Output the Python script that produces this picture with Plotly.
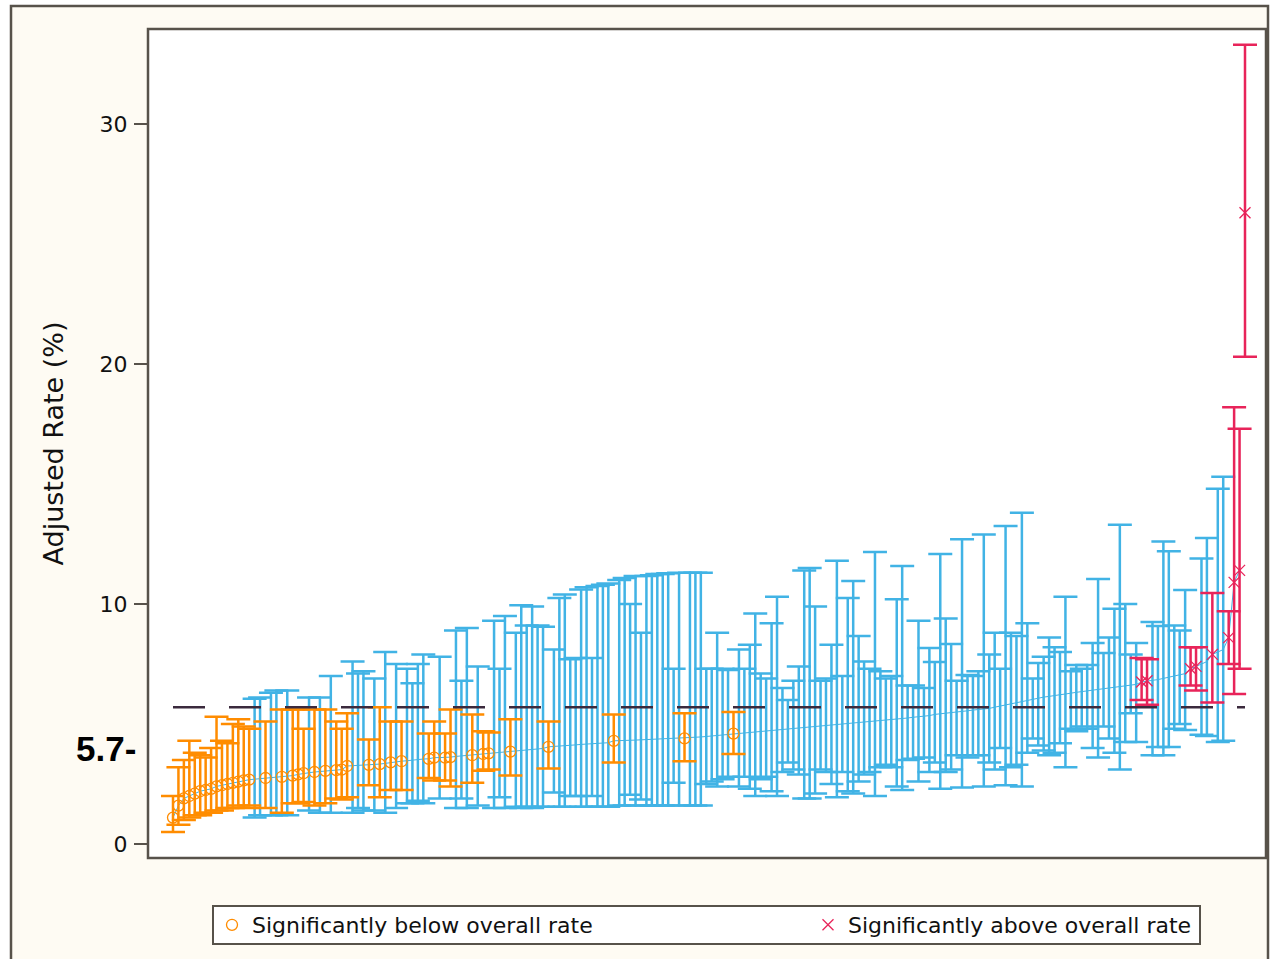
import plotly.graph_objects as go

# ---- data (hospitals ordered by adjusted rate) ----
# flag: B = significantly below overall rate, N = not significant, A = significantly above
flag = list(
    "BBBBBBBBBB" "BBBBBNNBNN" "BNBBBNBNBN" "BBBNNNBNBN" "BNBNNNNBBN"
    "BBNNNBNBBN" "NNBNNNNNNB" "NNNNNNNNNN" "NBNNNNNNNN" "NNNNBNNNNN"
    "NNNBNNNNNN" "NNNNNNNNNN" "NNNNNNNNNN" "NNNNNNNNNN" "NNNNNNNNNN"
    "NNNNNNNNNN" "NNNNNNNNNN" "NNNNNNNNAA" "NNNNNNNAAN" "NANNAAAA"
)
rate = [
    1.10, 1.60, 1.90, 2.00, 2.10, 2.20, 2.25, 2.30, 2.40, 2.45,
    2.50, 2.55, 2.60, 2.65, 2.68, 2.70, 2.72, 2.75, 2.77, 2.80,
    2.80, 2.83, 2.85, 2.90, 2.95, 2.97, 3.00, 3.02, 3.05, 3.07,
    3.08, 3.10, 3.25, 3.26, 3.27, 3.28, 3.30, 3.32, 3.33, 3.36,
    3.40, 3.42, 3.45, 3.47, 3.50, 3.52, 3.54, 3.55, 3.60, 3.60,
    3.60, 3.62, 3.65, 3.67, 3.68, 3.70, 3.72, 3.75, 3.78, 3.80,
    3.81, 3.82, 3.85, 3.87, 3.90, 3.92, 3.94, 3.96, 3.98, 4.05,
    4.06, 4.08, 4.10, 4.12, 4.13, 4.15, 4.16, 4.18, 4.19, 4.20,
    4.22, 4.30, 4.30, 4.31, 4.32, 4.33, 4.34, 4.35, 4.36, 4.37,
    4.38, 4.39, 4.40, 4.40, 4.40, 4.42, 4.44, 4.46, 4.48, 4.50,
    4.52, 4.54, 4.56, 4.60, 4.62, 4.64, 4.66, 4.68, 4.70, 4.72,
    4.74, 4.76, 4.78, 4.80, 4.82, 4.84, 4.86, 4.88, 4.90, 4.92,
    4.94, 4.96, 4.98, 5.00, 5.02, 5.04, 5.06, 5.08, 5.10, 5.12,
    5.14, 5.16, 5.18, 5.20, 5.22, 5.25, 5.28, 5.30, 5.32, 5.35,
    5.40, 5.42, 5.45, 5.48, 5.50, 5.52, 5.55, 5.58, 5.60, 5.62,
    5.65, 5.70, 5.75, 5.80, 5.85, 5.90, 5.95, 6.00, 6.05, 6.10,
    6.12, 6.15, 6.20, 6.22, 6.25, 6.30, 6.32, 6.35, 6.38, 6.40,
    6.45, 6.48, 6.50, 6.55, 6.58, 6.60, 6.62, 6.65, 6.75, 6.80,
    6.82, 6.85, 6.90, 6.95, 7.00, 7.05, 7.10, 7.30, 7.40, 7.50,
    7.60, 7.90, 8.00, 8.10, 8.60, 10.90, 11.40, 26.30,
]
lower = [
    0.50, 0.80, 1.00, 1.10, 1.20, 1.20, 1.30, 1.30, 1.40, 1.40,
    1.50, 1.50, 1.60, 1.50, 1.60, 1.10, 1.20, 1.50, 1.20, 1.20,
    1.30, 1.20, 1.70, 1.70, 1.75, 1.40, 1.60, 1.30, 1.70, 1.30,
    1.90, 1.85, 1.95, 1.30, 1.50, 1.40, 2.45, 1.40, 1.95, 1.30,
    2.25, 1.50, 2.25, 1.70, 1.70, 1.80, 1.70, 2.75, 2.65, 1.90,
    2.65, 2.40, 1.50, 1.90, 1.50, 2.55, 1.60, 3.05, 3.10, 1.50,
    1.95, 1.50, 2.85, 1.55, 1.50, 1.55, 1.50, 1.55, 1.55, 3.15,
    2.15, 1.55, 1.55, 2.00, 2.00, 1.55, 1.55, 2.00, 1.55, 1.55,
    1.55, 3.40, 1.60, 1.60, 2.05, 1.60, 1.85, 1.60, 1.60, 1.60,
    1.60, 1.60, 2.55, 1.60, 3.45, 1.60, 1.60, 1.60, 2.50, 2.60,
    2.40, 2.70, 2.80, 3.75, 2.40, 2.80, 2.30, 2.00, 2.70, 2.80,
    2.20, 2.00, 3.00, 3.40, 3.10, 2.90, 1.90, 1.90, 2.10, 3.10,
    3.00, 2.50, 1.95, 3.00, 2.20, 2.10, 2.60, 2.90, 3.00, 2.00,
    3.20, 3.30, 3.20, 2.40, 2.25, 3.50, 3.55, 2.60, 3.60, 3.00,
    3.40, 2.30, 3.00, 3.10, 3.70, 2.35, 3.60, 3.70, 3.70, 2.40,
    3.40, 3.10, 4.00, 2.45, 3.20, 3.30, 2.40, 3.80, 4.40, 4.10,
    3.90, 3.70, 3.80, 4.20, 3.20, 4.80, 4.70, 4.90, 4.80, 4.00,
    3.60, 4.90, 4.40, 3.80, 3.10, 4.25, 5.45, 4.25, 6.00, 5.80,
    3.70, 4.04, 3.70, 4.04, 4.80, 5.00, 4.75, 6.60, 6.40, 4.55,
    4.50, 5.90, 4.25, 4.30, 7.50, 6.25, 7.30, 20.30,
]
upper = [
    2.00, 3.20, 3.50, 4.30, 3.80, 3.70, 3.60, 4.00, 5.30, 4.30,
    4.20, 5.00, 5.20, 4.90, 4.80, 6.05, 6.10, 5.10, 6.30, 6.40,
    5.60, 6.40, 5.60, 5.60, 4.80, 6.10, 5.60, 6.10, 5.60, 7.00,
    5.10, 4.80, 5.45, 7.60, 7.10, 7.20, 4.35, 6.90, 5.70, 8.00,
    5.10, 7.50, 5.10, 7.30, 6.70, 7.50, 7.90, 4.60, 5.10, 7.80,
    4.60, 5.60, 8.90, 6.80, 9.00, 5.40, 7.40, 4.70, 4.65, 9.30,
    7.30, 9.50, 5.20, 8.80, 9.95, 9.10, 9.90, 9.10, 9.05, 5.10,
    8.10, 10.25, 10.40, 7.70, 7.75, 10.60, 10.70, 7.75, 10.75, 10.80,
    10.85, 5.40, 11.00, 11.08, 10.00, 11.17, 8.80, 11.17, 11.20, 11.25,
    11.25, 11.28, 7.30, 11.30, 5.45, 11.30, 11.30, 11.30, 7.30, 7.30,
    8.80, 7.30, 7.25, 5.50, 8.10, 7.30, 8.30, 9.60, 7.10, 6.90,
    9.20, 10.30, 6.50, 6.00, 6.80, 7.40, 11.40, 11.50, 9.90, 6.80,
    6.90, 8.30, 11.80, 7.00, 10.25, 10.96, 8.67, 7.60, 7.30, 12.17,
    7.20, 6.90, 7.00, 10.20, 11.58, 6.60, 6.60, 9.30, 6.50, 8.17,
    7.58, 12.08, 9.40, 8.33, 6.80, 12.70, 7.04, 7.00, 7.20, 12.90,
    7.90, 8.80, 7.30, 13.25, 8.80, 8.67, 13.80, 9.20, 6.90, 7.54,
    7.80, 8.60, 8.20, 8.00, 10.30, 7.20, 7.46, 7.30, 7.46, 8.38,
    11.04, 7.96, 8.60, 9.80, 13.30, 10.00, 7.90, 8.38, 7.75, 7.70,
    9.25, 9.08, 12.60, 12.20, 9.10, 8.90, 10.58, 8.20, 8.20, 11.90,
    12.75, 10.46, 14.80, 15.30, 9.70, 18.20, 17.30, 33.30,
]
overall_rate = 5.7
legend_below = "Significantly below overall rate"
legend_above = "Significantly above overall rate"
y_title = "Adjusted Rate (%)"
y_ticks = [0, 10, 20, 30]

# ---- build ----
n = len(rate)
rank = list(range(n))

BLUE = "#41B3E5"
ORANGE = "#FF8C00"
RED = "#E8245A"
DARK = "#57524a"


def subset(code):
    idx = [i for i in range(n) if flag[i] == code]
    return (
        [rank[i] for i in idx],
        [rate[i] for i in idx],
        [upper[i] - rate[i] for i in idx],
        [rate[i] - lower[i] for i in idx],
    )


fig = go.Figure()

# thin line through the estimates (the extreme outlier is left unconnected)
fig.add_trace(go.Scatter(x=rank[:-1], y=rate[:-1], mode="lines",
                         line=dict(color=BLUE, width=1), showlegend=False,
                         hoverinfo="skip"))

for code, color, sym, name, leg in [
    ("N", BLUE, "circle", "Not significant", None),
    ("B", ORANGE, "circle-open", legend_below, "legend"),
    ("A", RED, "x-thin-open", legend_above, "legend2"),
]:
    xs, ys, ep, em = subset(code)
    if code == "N":
        marker = dict(size=1, color="rgba(0,0,0,0)")
    else:
        marker = dict(symbol=sym, size=11, color=color,
                      line=dict(color=color, width=1.3))
    fig.add_trace(go.Scatter(
        x=xs, y=ys, mode="markers", marker=marker, name=name,
        showlegend=leg is not None, legend=leg if leg else "legend",
        error_y=dict(type="data", symmetric=False, array=ep, arrayminus=em,
                     color=color, thickness=2.5, width=12),
    ))

# overall rate reference line
fig.add_trace(go.Scatter(x=[0, n - 1], y=[overall_rate, overall_rate],
                         mode="lines", showlegend=False, hoverinfo="skip",
                         line=dict(color="#3b2a3d", width=2.5,
                                   dash="32px,24px")))

W, H = 1270, 959
L, R, T, B = 148, 4, 29, 101
pw, ph = W - L - R, H - T - B


def px(xp):
    return (xp - L) / pw


def py(yp):
    return (H - B - yp) / ph


spacing = (1245 - 173) / (n - 1)
x0 = -(173 - L) / spacing
x1 = (W - R - 173) / spacing
y_per = 24.0
ymax = (844 - T) / y_per
ymin = -(H - B - 844) / y_per

fig.update_layout(
    width=W, height=H,
    margin=dict(l=L, r=R, t=T, b=B),
    paper_bgcolor="white",
    plot_bgcolor="rgba(0,0,0,0)",
    font=dict(family="DejaVu Sans", color="#111111"),
    xaxis=dict(range=[x0, x1], showticklabels=False, ticks="",
               showgrid=False, zeroline=False, showline=False),
    yaxis=dict(range=[ymin, ymax], tickvals=y_ticks, ticks="outside",
               ticklen=13, tickwidth=2, tickcolor=DARK,
               tickfont=dict(size=22, family="DejaVu Sans"),
               ticklabelstandoff=2,
               showgrid=False, zeroline=False, showline=False,
               title=dict(text=y_title, standoff=28,
                          font=dict(size=27, family="DejaVu Sans"))),
    shapes=[
        dict(type="rect", xref="paper", yref="paper", layer="below",
             x0=px(11), x1=px(1268), y0=py(975), y1=py(6),
             fillcolor="#FEFBF3", line=dict(color=DARK, width=2.5)),
        dict(type="rect", xref="paper", yref="paper", layer="below",
             x0=0, x1=1, y0=0, y1=1,
             fillcolor="white", line=dict(color=DARK, width=2.5)),
        dict(type="rect", xref="paper", yref="paper", layer="below",
             x0=px(213), x1=px(1200), y0=py(944), y1=py(906),
             fillcolor="white", line=dict(color=DARK, width=2)),
    ],
    legend=dict(x=px(212), xanchor="left", y=py(925), yanchor="middle",
                orientation="h", bgcolor="rgba(0,0,0,0)", borderwidth=0,
                font=dict(size=22, family="DejaVu Sans", color="#111111")),
    legend2=dict(x=px(808), xanchor="left", y=py(925), yanchor="middle",
                 orientation="h", bgcolor="rgba(0,0,0,0)", borderwidth=0,
                 font=dict(size=22, family="DejaVu Sans", color="#111111")),
    annotations=[
        dict(text="<b>5.7-</b>", xref="paper", yref="y", x=px(138),
             y=4.0, xanchor="right", yanchor="middle", showarrow=False,
             font=dict(size=35, family="Liberation Sans", color="black")),
    ],
)

fig.write_html("out.html",
               config={"displayModeBar": False},
               post_script="document.body.style.margin='0';"
                           "document.body.style.overflow='hidden';")
